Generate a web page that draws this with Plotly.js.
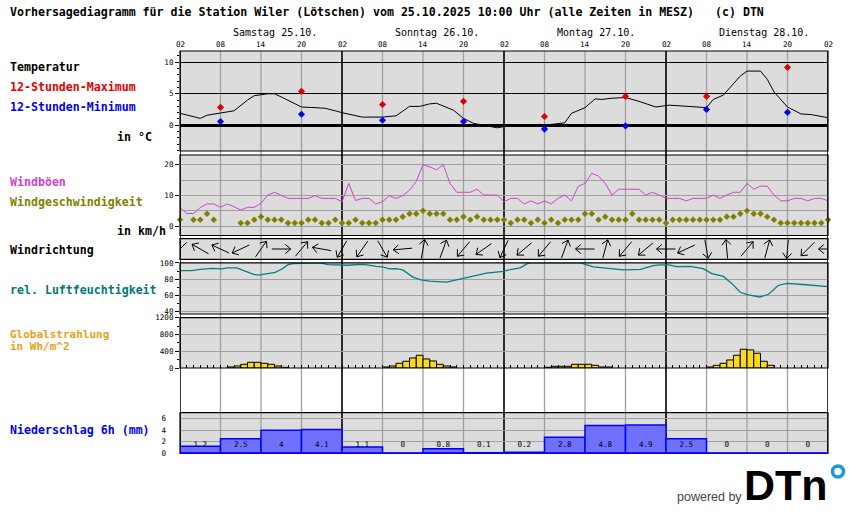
<!DOCTYPE html>
<html><head><meta charset="utf-8">
<script src="https://cdn.plot.ly/plotly-3.0.1.min.js"></script>
<style>html,body{margin:0;padding:0;background:#fff}#chart{width:850px;height:524px}</style>
</head><body><div id="chart"></div>
<script>
// ---------------- data ----------------
const hourTicks = [0,6,12,18,24,30,36,42,48,54,60,66,72,78,84,90,96];
const hourLabels = ["02","08","14","20","02","08","14","20","02","08","14","20","02","08","14","20","02"];
const dayStarts = [0,24,48,72];
const dayLabels = ["Samstag 25.10.","Sonntag 26.10.","Montag 27.10.","Dienstag 28.10."];

const tempHours = [0,3,4,6,8,10,11,13,14,15,17,18,20,21.5,23,24,27,30,32,34,35.5,37,38,40.5,42,43.5,45.5,47,48,49.5,53,55.5,57,58,60,61.5,62.5,64,66,68,70.5,72.5,75,78,79,80.5,82,83,84,86,87,88,90,92,93.5,96];
const tempValues = [1.9,1.1,1.6,2.0,2.3,4.0,4.7,5.0,5.0,4.5,3.4,2.9,2.8,2.7,2.3,2.0,1.3,1.3,1.5,3.0,3.0,3.4,3.5,2.4,1.1,0.3,-0.1,-0.4,-0.2,-0.2,-0.1,0.2,0.4,1.9,2.8,4.2,4.1,4.3,4.4,3.8,2.9,3.2,3.05,2.8,4.1,4.8,6.6,7.8,8.6,8.6,7.3,5.3,2.9,1.8,1.7,1.2];

const extremeHours = [6,18,30,42,54,66,78,90];
const tempMax = [2.85,5.4,3.3,3.8,1.4,4.6,4.6,9.2];
const tempMin = [0.6,1.75,0.8,0.6,-0.6,-0.1,2.5,2.05];

// hourly, index = hours after 02:00 Saturday
const gustValues = [6,4.1,4.1,6,7.2,7.2,6.1,7.2,6.3,5.2,6.1,6.1,7.4,10.1,11,10.1,9,9,9,9,9.9,9,9,9,
  7.9,13.9,8.3,9,9,7.2,7.9,9.9,9,9.9,11.7,14.5,20,19.3,18.3,20,13.9,11,11,11,12,10.1,10.1,10.1,
  7.9,9,9,7.2,8.2,7.2,8.2,7.2,9,10.1,8.2,13,13.9,17.2,16.3,13.9,10.1,12,12,12,12,10.1,11,10.1,
  9,9,9,8.2,9,9,9,10.1,9,10.1,11,11,13.9,12,13,13,10.1,8.2,8.2,9,9,8.2,9,9,8.2];
const windSpeed = [2,null,2,2,4,2,null,null,null,1,1,2,3,2,2,2,1,1,1,2,2,1,1,2,
  1,1,2,1,1,1,2,2,2,3,4,4,5,4,4,4,2,2,3,2,3,2,2,2,
  2,1,2,2,1,2,1,2,1,2,2,2,4,4,2,3,2,2,2,4,2,2,2,2,
  1,2,2,2,2,2,2,2,2,3,3,4,5,4,4,3,2,1,1,1,1,1,1,1,2];

const dirHours = [0,3,6,9,12,15,18,21,24,27,30,33,36,39,42,45,48,51,54,57,60,63,66,69,72,75,78,81,84,87,90,93,96];
const windDirFrom = [45,120,115,65,215,270,220,100,30,35,330,85,190,200,40,55,25,50,40,200,90,195,40,50,90,65,350,175,220,195,5,45,90];

const humHours = [0,1.7,3,4.8,6.2,7,8.4,9.6,10.9,11.6,12.3,13.3,14.1,15.1,16,16.8,18.5,19.5,20.7,22,24,24.9,26.6,27.5,29.1,30,31,32,33,34.5,35.7,37,39.5,42,43.5,45.4,47.9,48.9,50.4,51.4,51.9,59.3,60.3,61.2,64.2,65.7,68.2,70.1,71.1,72.4,73.6,75.6,77.5,78.8,80.5,81.7,83,84.2,85.9,87.2,88.6,89.9,92.3,96];
const humValues = [90.4,90.4,92,93.3,92.5,93.8,93.8,89.6,85.8,85,85.8,86.7,88.3,92.5,97.9,99.2,99.6,100,100,97.9,97.9,97.1,98.3,97.9,95.8,95,92.5,92.9,91.3,82.5,79,77.5,76.3,81.3,84.6,87.5,89.6,91.7,93.8,98.75,100,100,97.5,95,92.5,91.3,92.1,96.7,97.5,97.5,95.4,95.8,92.9,86.7,83.3,75,63.75,60.4,57.9,61.25,72.1,74.6,73.3,70.8];

const radHours = [7,8,9,10,11,12,13,14,15, 30,31,32,33,34,35,36,37,38,39,40, 54,55,56,57,58,59,60,61,62,63, 78,79,80,81,82,83,84,85,86,87];
const radValues = [24,48,88,136,136,112,88,48,16, 24,48,112,160,240,304,216,168,88,48,24, 16,40,40,40,88,88,88,64,24,24, 24,64,112,192,304,448,432,352,160,64];

const precipStarts = [0,6,12,18,24,30,36,42,48,54,60,66,72,78,84,90];
const precipValues = [1.2,2.5,4,4.1,1.1,0,0.8,0.1,0.2,2.8,4.8,4.9,2.5,0,0,0];

// ---------------- layout helpers ----------------
const W = 850, H = 524, PL = 180, PR = 828;
const pxPerHour = (PR - PL) / 96;
const px2x = p => (p - PL) / (PR - PL);
const py = p => 1 - p / H;
const dom = (t, b) => [1 - b / H, 1 - t / H];
const P = { temp:[51,151], wind:[155,235.5], dir:[238.7,259.3], hum:[262.9,314], rad:[317.7,368], pre:[412.7,453.3] };
const MONO = 'DejaVu Sans Mono';
const tickFont = {family: MONO, size: 7.6, color: '#000'};
const GRID = '#a0a0a0';

function yax(panel, range, extra) {
  return Object.assign({
    domain: dom(P[panel][0], P[panel][1]), range: range, anchor: 'x',
    showline: false, zeroline: false, ticks: 'outside', ticklen: 4, tickwidth: 1, tickcolor: '#000',
    tickfont: tickFont, fixedrange: true, showgrid: true, gridcolor: GRID, gridwidth: 1
  }, extra || {});
}

// ---------------- wind arrows ----------------
const arrX = [], arrY = [];
const dirH = P.dir[1] - P.dir[0];
const AL = 19, HL = 7, YC = dirH / 2, HA = 40 * Math.PI / 180;
dirHours.forEach((h, i) => {
  const th = (windDirFrom[i] + 180) * Math.PI / 180;
  const dx = Math.sin(th), dy = Math.cos(th);
  const head = [dx * AL / 2, dy * AL / 2], tail = [-dx * AL / 2, -dy * AL / 2];
  const bx = -dx, by = -dy;
  const rot = a => [head[0] + HL * (bx * Math.cos(a) - by * Math.sin(a)), head[1] + HL * (bx * Math.sin(a) + by * Math.cos(a))];
  [tail, head, null, rot(HA), head, rot(-HA), null].forEach(p => {
    if (p === null) { arrX.push(null); arrY.push(null); }
    else { arrX.push(h + p[0] / pxPerHour); arrY.push(YC + p[1]); }
  });
});

const hoursIdx = arr => arr.map((_, i) => i);

const traces = [
  {x: tempHours, y: tempValues, yaxis: 'y', mode: 'lines', line: {color: '#000', width: 1}},
  {x: extremeHours, y: tempMax, yaxis: 'y', mode: 'markers', marker: {symbol: 'diamond', size: 5.5, color: '#e00000'}},
  {x: extremeHours, y: tempMin, yaxis: 'y', mode: 'markers', marker: {symbol: 'diamond', size: 5.5, color: '#0000ee'}},
  {x: hoursIdx(gustValues), y: gustValues, yaxis: 'y2', mode: 'lines', line: {color: '#cc44cc', width: 1}},
  {x: hoursIdx(windSpeed), y: windSpeed, yaxis: 'y2', mode: 'markers', marker: {symbol: 'diamond', size: 5, color: '#7f7f00'}, cliponaxis: false},
  {x: arrX, y: arrY, yaxis: 'y3', mode: 'lines', line: {color: '#000', width: 1}, cliponaxis: false, connectgaps: false},
  {x: humHours, y: humValues, yaxis: 'y4', mode: 'lines', line: {color: '#008080', width: 1.3}},
  {type: 'bar', x: radHours.map(h => h + 0.5), y: radValues, width: 1, yaxis: 'y5',
   marker: {color: '#f9d91d', line: {color: '#000', width: 1}}},
  {type: 'bar', x: precipStarts.map(h => h + 3), y: precipValues, width: 6, yaxis: 'y6',
   marker: {color: '#7070ff', line: {color: '#0000ff', width: 1.5}}},
  {x: precipStarts.map(h => h + 3), y: precipValues.map(() => 1.44), text: precipValues.map(v => String(v)),
   yaxis: 'y6', mode: 'text', textfont: {family: MONO, size: 7.6, color: '#000'}, cliponaxis: false}
];

// ---------------- shapes ----------------
const shapes = [];
hourTicks.forEach(h => {
  const day = h % 24 === 0;
  shapes.push({type: 'line', xref: 'x', yref: 'paper', x0: h, x1: h, y0: py(P.pre[1]), y1: py(P.temp[0]),
    line: {color: day ? '#000' : GRID, width: day ? 1.6 : 1.3}, layer: 'below'});
});
Object.keys(P).forEach(k => {
  shapes.push({type: 'rect', xref: 'paper', yref: 'paper', x0: 0, x1: 1, y0: py(P[k][1]), y1: py(P[k][0]),
    line: {color: '#000', width: 1.2}, fillcolor: 'rgba(0,0,0,0)', layer: 'above'});
});
shapes.push({type: 'line', xref: 'paper', yref: 'paper', x0: 0, x1: 1, y0: py(P.pre[1]), y1: py(P.pre[1]),
  line: {color: '#0000ff', width: 1.5}, layer: 'above'});
// logo ring
shapes.push({type: 'circle', xref: 'paper', yref: 'paper', x0: px2x(832.5), x1: px2x(843.5), y0: py(477), y1: py(466),
  line: {color: '#1a9ad6', width: 3.5}, fillcolor: '#fff', layer: 'above'});

// ---------------- annotations ----------------
const ann = [];
function lab(text, pxX, pxY, color, opts) {
  ann.push(Object.assign({text: text, xref: 'paper', yref: 'paper', x: px2x(pxX), y: py(pxY), xanchor: 'left', yanchor: 'middle',
    showarrow: false, font: {family: MONO, size: 11.6, color: color || '#000'}}, opts || {}));
}
lab('<b>Vorhersagediagramm für die Station Wiler (Lötschen) vom 25.10.2025 10:00 Uhr (alle Zeiten in MESZ)   (c) DTN</b>', 8, 12.5);
lab('<b>Temperatur</b>', 8, 67);
lab('<b>12-Stunden-Maximum</b>', 8, 87, '#e00000');
lab('<b>12-Stunden-Minimum</b>', 8, 107, '#0000ee');
lab('<b>in °C</b>', 154, 137, '#000', {xanchor: 'right'});
lab('<b>Windböen</b>', 8, 182, '#cc44cc');
lab('<b>Windgeschwindigkeit</b>', 8, 202, '#7f7f00');
lab('<b>in km/h</b>', 168, 231, '#000', {xanchor: 'right'});
lab('<b>Windrichtung</b>', 8, 250);
lab('<b>rel. Luftfeuchtigkeit</b>', 8, 290, '#007878');
lab('<b>Globalstrahlung</b>', 8, 334.5, '#e8a020', {font: {family: MONO, size: 11, color: '#e8a020'}});
lab('<b>in Wh/m^2</b>', 8, 346, '#e8a020', {font: {family: MONO, size: 11, color: '#e8a020'}});
lab('<b>Niederschlag 6h (mm)</b>', 8, 430, '#0000ee');

dayLabels.forEach((d, i) => {
  ann.push({text: d, xref: 'x', yref: 'paper', x: dayStarts[i] + 7.5, y: py(33), xanchor: 'left', yanchor: 'middle',
    showarrow: false, font: {family: MONO, size: 10, color: '#000'}});
});
hourLabels.forEach((t, i) => {
  ann.push({text: t, xref: 'x', yref: 'paper', x: hourTicks[i], y: py(44.8), xanchor: 'center', yanchor: 'middle',
    showarrow: false, font: {family: MONO, size: 7.6, color: '#000'}});
});
ann.push({text: 'powered by', xref: 'paper', yref: 'paper', x: px2x(709), y: py(497), xanchor: 'center', yanchor: 'middle',
  showarrow: false, font: {family: 'Liberation Sans', size: 12.5, color: '#444'}});
ann.push({text: '<b>DTn</b>', xref: 'paper', yref: 'paper', x: px2x(830), y: py(485), xanchor: 'right', yanchor: 'middle',
  showarrow: false, font: {family: 'Liberation Sans', size: 43, color: '#000'}});

const layout = {
  width: W, height: H, margin: {l: PL, r: W - PR, t: 0, b: 0, pad: 0},
  paper_bgcolor: '#fff', plot_bgcolor: '#dcdcdc', showlegend: false, barmode: 'overlay',
  font: {family: MONO, size: 8, color: '#000'},
  xaxis: {domain: [0, 1], range: [0, 96], anchor: 'y5', showgrid: false, zeroline: false, showline: false,
    ticks: 'inside', ticklen: 3, tickcolor: '#000', tickwidth: 1, tick0: 0, dtick: 1, showticklabels: false,
    fixedrange: true, layer: 'below traces'},
  yaxis: yax('temp', [-4.08, 11.79], {tick0: 0, dtick: 5, gridcolor: '#000', gridwidth: 1.2,
    zeroline: true, zerolinecolor: '#000', zerolinewidth: 3,
    minor: {tick0: 0, dtick: 1, ticks: 'outside', ticklen: 2.5, tickcolor: '#000', showgrid: false}}),
  yaxis2: yax('wind', [-3.1, 23.16], {tick0: 0, dtick: 10,
    minor: {tick0: 0, dtick: 5, ticks: '', showgrid: true, gridcolor: GRID, gridwidth: 1}}),
  yaxis3: yax('dir', [0, dirH], {showticklabels: false, ticks: '', showgrid: false}),
  yaxis4: yax('hum', [36.9, 100], {tick0: 40, dtick: 20,
    minor: {tick0: 40, dtick: 10, ticks: 'outside', ticklen: 2.5, tickcolor: '#000', showgrid: false}}),
  yaxis5: yax('rad', [0, 1200], {tick0: 0, dtick: 400,
    minor: {tick0: 0, dtick: 200, ticks: 'outside', ticklen: 2.5, tickcolor: '#000', showgrid: false}}),
  yaxis6: yax('pre', [0, 7.03], {tick0: 0, dtick: 2, ticks: '', ticklabelstandoff: 13}),
  shapes: shapes, annotations: ann
};

Plotly.newPlot('chart', traces, layout, {staticPlot: true, displayModeBar: false});
</script>
</body></html>
